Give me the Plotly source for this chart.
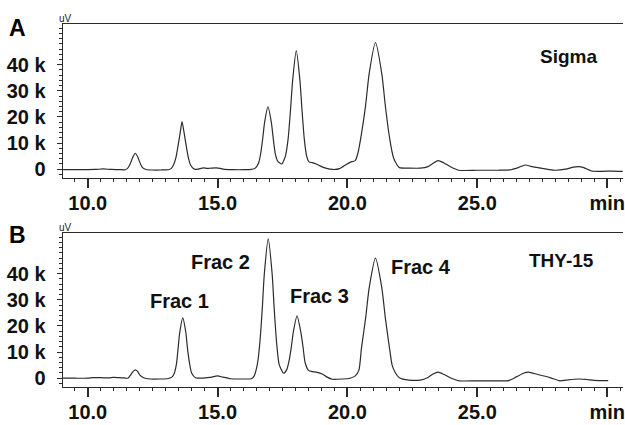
import plotly.graph_objects as go

# ---------------- data ----------------
time_sigma = [9.05, 9.5, 10.0, 10.3, 10.6, 10.9, 11.2, 11.45, 11.54, 11.60, 11.67, 11.73, 11.83,
              11.93, 11.99, 12.06, 12.12, 12.25, 12.5, 12.8, 13.1, 13.22, 13.31, 13.40, 13.48,
              13.56, 13.63, 13.71, 13.79, 13.87, 13.96, 14.08, 14.2, 14.45, 14.6, 14.75, 14.95,
              15.1, 15.3, 15.6, 16.0, 16.3, 16.45, 16.58, 16.66, 16.74, 16.81, 16.94, 17.07,
              17.14, 17.22, 17.32, 17.47, 17.56, 17.63, 17.72, 17.81, 17.89, 18.03, 18.17, 18.25,
              18.34, 18.43, 18.52, 18.65, 18.8, 19.0, 19.2, 19.42, 19.7, 19.95, 20.12, 20.3,
              20.40, 20.54, 20.70, 20.835, 21.08, 21.325, 21.46, 21.62, 21.77, 21.9, 22.0, 22.4,
              22.8, 23.1, 23.3, 23.49, 23.7, 23.95, 24.28, 25.0, 25.8, 26.3, 26.6, 26.84, 27.1,
              27.5, 27.99, 28.4, 28.7, 28.89, 29.1, 29.4, 29.8, 30.2, 30.6]
signal_sigma = [-150, -200, -150, -100, 100, -100, -150, -200, 400, 1300, 2900, 4500, 6100,
                4600, 3000, 1400, 500, -100, -300, -300, -200, 300, 1800, 4600, 9100,
                14000, 18200, 14000, 9100, 4600, 1600, 200, -100, 500, 300, 400, 500,
                300, -100, -200, -200, -100, 400, 2400, 6000, 11950, 17900, 23900, 17900,
                11950, 6000, 3000, 2000, 3600, 5800, 12000, 23000, 34000, 45400, 34000, 22700,
                11400, 5000, 2800, 2500, 2000, 1000, 300, -100, 200, 1800, 2700, 3300,
                6000, 13500, 24500, 36500, 48500, 36400, 24200, 12100, 4500, 1800, 600, 400,
                400, 1000, 2300, 3300, 2500, 1000, -400, -400, -400, -200, 700, 1600, 1000,
                300, -400, 0, 800, 1000, 600, -700, -800, -700, -800]

time_thy = [9.05, 9.5, 10.0, 10.2, 10.5, 10.8, 11.0, 11.2, 11.4, 11.55, 11.65, 11.75, 11.83,
            11.92, 12.0, 12.15, 12.4, 12.8, 13.1, 13.25, 13.33, 13.42, 13.48, 13.54, 13.66,
            13.78, 13.84, 13.92, 14.0, 14.15, 14.4, 14.7, 15.0, 15.2, 15.5, 16.0, 16.3, 16.40,
            16.53, 16.625, 16.72, 16.80, 16.95, 17.10, 17.18, 17.275, 17.37, 17.54, 17.66,
            17.75, 17.84, 17.92, 18.06, 18.20, 18.29, 18.37, 18.5, 18.65, 18.8, 19.03, 19.2,
            19.42, 19.8, 20.1, 20.3, 20.44, 20.54, 20.70, 20.835, 21.08, 21.325, 21.46, 21.62,
            21.72, 21.85, 22.0, 22.36, 22.8, 23.1, 23.3, 23.49, 23.7, 24.0, 24.3, 25.0, 25.8,
            26.2, 26.5, 26.8, 26.97, 27.3, 27.8, 28.18, 28.5, 28.89, 29.2, 29.5, 30.04]
signal_thy = [0, 0, 0, 200, 200, 100, 300, 200, 100, 0, 1200, 2600, 3200,
              2600, 1300, 200, -300, -300, -100, 500, 1800, 5700, 11500, 17300, 23100,
              17300, 11500, 5700, 2000, 200, 0, 300, 900, 400, -200, -300, -200, 700,
              5300, 13300, 26600, 40000, 53300, 40000, 26600, 13300, 5300, 1900, 3200,
              6500, 12000, 17900, 23900, 17900, 11950, 6000, 3000, 2500, 2300, 1600, 500,
              -400, -300, 0, 900, 3000, 11500, 23000, 34500, 46000, 34500, 23000, 11500,
              5000, 2000, 200, -700, -700, 300, 1600, 2300, 1500, 0, -1000, -1000, -1000,
              -900, 500, 2000, 2300, 1500, 200, -1000, -600, -300, -500, -800, -900]

x_tick_vals = [10, 15, 20, 25, 30]
x_tick_text = ["10.0", "15.0", "20.0", "25.0", "min"]
y_tick_vals = [0, 10000, 20000, 30000, 40000]
y_tick_text = ["0", "10 k", "20 k", "30 k", "40 k"]

panel_letters = ["A", "B"]
sample_names = ["Sigma", "THY-15"]
frac_labels = ["Frac 1", "Frac 2", "Frac 3", "Frac 4"]
frac_label_pos = [(13.53, 29700), (15.11, 44600), (18.94, 31600), (22.82, 42700)]

# ---------------- figure ----------------
W, H = 625, 425
FONT = "Liberation Sans, Arial, sans-serif"
LINE = "#2a2a2a"

fig = go.Figure()
fig.add_trace(go.Scatter(x=time_sigma, y=signal_sigma, mode="lines", line=dict(color="#2b2b2b", width=1.2, shape="spline", smoothing=0.6),
                         xaxis="x", yaxis="y", showlegend=False, hoverinfo="skip"))
fig.add_trace(go.Scatter(x=time_thy, y=signal_thy, mode="lines", line=dict(color="#2b2b2b", width=1.2, shape="spline", smoothing=0.6),
                         xaxis="x2", yaxis="y2", showlegend=False, hoverinfo="skip"))

xdom = [63 / W, 1.0]
ydomA = [1 - 179 / H, 1 - 24 / H]
ydomB = [1 - 389 / H, 1 - 234 / H]
xrange_ = [9.04, 30.61]
yrange_ = [-3430, 55620]

def xaxis(domain, anchor):
    return dict(domain=domain, anchor=anchor, range=xrange_, showgrid=False, zeroline=False,
                showline=True, linecolor=LINE, linewidth=1.3, mirror=True,
                ticks="outside", ticklen=9, tickwidth=2.2, tickcolor=LINE,
                tickvals=x_tick_vals, ticktext=x_tick_text, ticklabeloverflow="allow",
                ticklabelstandoff=-2,
                tickfont=dict(family=FONT, size=20, color="#111111", weight="bold"),
                minor=dict(dtick=0.5, tick0=10, ticks="outside", ticklen=3, tickwidth=1, tickcolor=LINE))

def yaxis(domain, anchor):
    return dict(domain=domain, anchor=anchor, range=yrange_, showgrid=False, zeroline=False,
                showline=True, linecolor=LINE, linewidth=1.3, mirror=False,
                ticks="outside", ticklen=5, tickwidth=1.3, tickcolor=LINE,
                tickvals=y_tick_vals, ticktext=y_tick_text, ticklabelstandoff=7,
                tickfont=dict(family=FONT, size=20, color="#111111", weight="bold"),
                minor=dict(dtick=2000, tick0=0, ticks="outside", ticklen=3, tickwidth=1, tickcolor=LINE))

fig.update_layout(
    width=W, height=H, margin=dict(l=0, r=0, t=0, b=0),
    paper_bgcolor="white", plot_bgcolor="white",
    xaxis=xaxis(xdom, "y"), yaxis=yaxis(ydomA, "x"),
    xaxis2=xaxis(xdom, "y2"), yaxis2=yaxis(ydomB, "x2"),
)

ann = []
# panel letters
for letter, py in zip(panel_letters, [28, 236]):
    ann.append(dict(x=18 / W, y=1 - py / H, xref="paper", yref="paper", text=letter, showarrow=False,
                    font=dict(family=FONT, size=23, color="#000000", weight="bold"), xanchor="center", yanchor="middle"))
# uV unit labels
for py in [19, 229]:
    ann.append(dict(x=66 / W, y=1 - py / H, xref="paper", yref="paper", text="uV", showarrow=False,
                    font=dict(family=FONT, size=10, color="#222222"), xanchor="center", yanchor="middle"))
# sample names
ann.append(dict(x=28.50, y=43000, xref="x", yref="y", text=sample_names[0], showarrow=False,
                font=dict(family=FONT, size=19, color="#111111", weight="bold"), xanchor="center", yanchor="middle"))
ann.append(dict(x=28.23, y=45000, xref="x2", yref="y2", text=sample_names[1], showarrow=False,
                font=dict(family=FONT, size=19, color="#111111", weight="bold"), xanchor="center", yanchor="middle"))
# fraction labels
for txt, (fx, fy) in zip(frac_labels, frac_label_pos):
    ann.append(dict(x=fx, y=fy, xref="x2", yref="y2", text=txt, showarrow=False,
                    font=dict(family=FONT, size=20, color="#111111", weight="bold"), xanchor="center", yanchor="middle"))
fig.update_layout(annotations=ann)

fig.write_html("out.html", config={"displayModeBar": False},
               post_script="document.body.style.margin='0';document.body.style.padding='0';document.body.style.overflow='hidden';")
